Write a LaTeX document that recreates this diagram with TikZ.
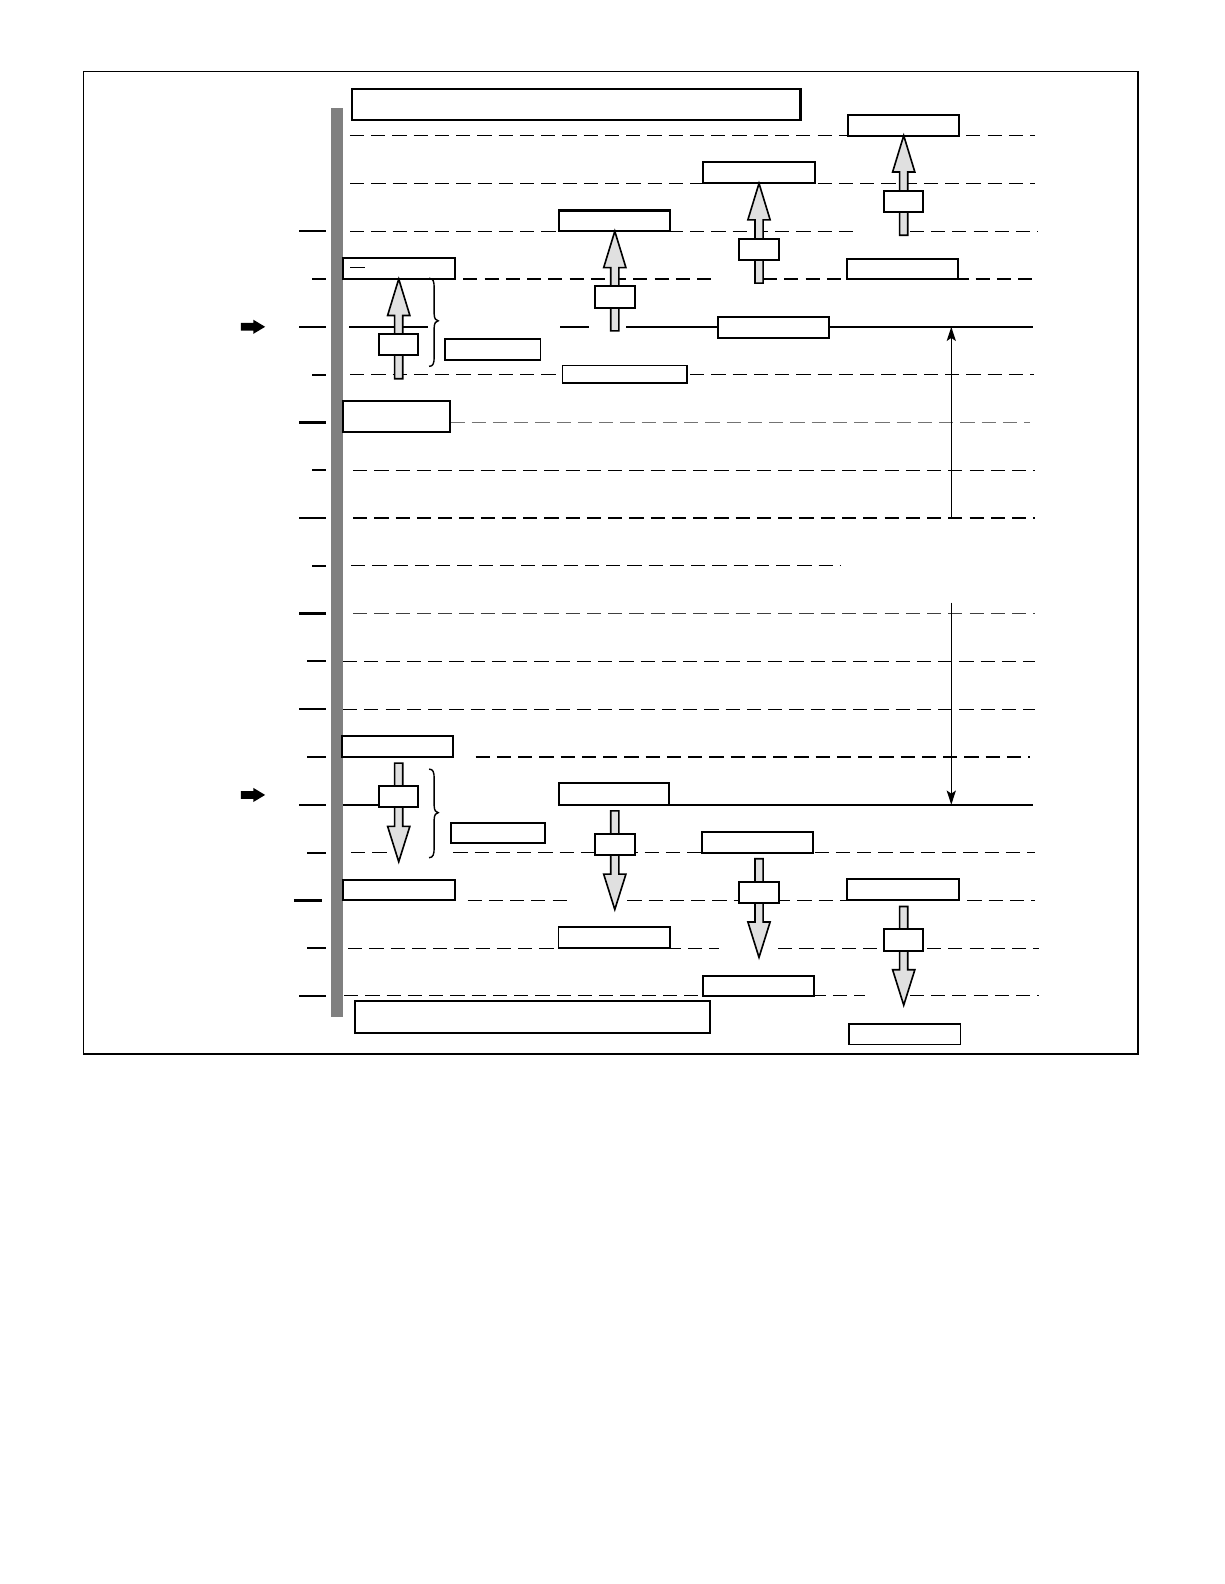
\documentclass[tikz,border=0pt]{standalone}
\usepackage{tikz}
\usetikzlibrary{calc,arrows.meta}
\tikzset{
	rung/.style={line width=0.55pt, dash pattern=on 7pt off 3.5pt},
	rungsolid/.style={line width=1pt},
	notch/.style={line width=1.1pt},
	slot/.style={line width=1pt, fill=white},
}
\def\liftarrow(#1:#2){\draw[line width=0.8pt, fill=black!12] (#1,#2) -- ++(11,36) -- ++(-7,0) -- ++(0,62.5) -- ++(-8,0) -- ++(0,-62.5) -- ++(-7,0) -- cycle;
	\draw[slot] ($(#1,#2)+(-19.5,54.5)$) rectangle ++(39,21);}
\def\droparrow(#1:#2){\draw[line width=0.8pt, fill=black!12] ($(#1,#2)+(-4,0)$) -- ++(8,0) -- ++(0,62.5) -- ++(7,0) -- ++(-11,35) -- ++(-11,-35) -- ++(7,0) -- cycle;
	\draw[slot] ($(#1,#2)+(-19.5,22.7)$) rectangle ++(39,21);}
\def\signarrow(#1:#2){\fill ($(#1,#2)+(0,-3.8)$) -- ++(12.3,0) -- ++(0,-3.2) -- ++(11.7,7) -- ++(-11.7,7) -- ++(0,-3.2) -- ++(-12.3,0) -- cycle;}

\begin{document}
\begin{tikzpicture}[x=0.5pt, y=-0.5pt]
			\useasboundingbox (0,0) rectangle (1209.5,1565.2);
			%%%%% FRAME %%%%%
			
			\draw[line width=0.65pt] (82.7,70.8) rectangle (1124.5,1041.5);
			\fill[color=black!50] (327.4,107) rectangle (338.6,1004.5);
			
			%%%%% LEVELS %%%%%
			
			\draw[rung] (345.8,134) -- (1022.7,134);
			\draw[rung] (346,181.2) -- (1022.7,181.2);
			\draw[rung] (346,228.5) -- (848,228.5);
			\draw[rung] (899,228.5) -- (1026,228.5);
			\draw[rung] (457.8,275.7) -- (708,275.7);
			\draw[rung] (754,275.7) -- (1021,275.7);
			\draw[rungsolid] (345,322.9) -- (423,322.9);
			\draw[rungsolid] (553.4,322.9) -- (582.3,322.9);
			\draw[rungsolid] (618.6,322.9) -- (1021,322.9);
			\draw[rung] (346,370.2) -- (1022,370.2);
			\draw[rung, color=black!55] (445,417.4) -- (1018,417.4);
			\draw[rung] (349,464.6) -- (1023,464.6);
			\draw[rung] (349,511.8) -- (1023,511.8);
			\draw[rung] (347,559.1) -- (831,559.1);
			\draw[rung, color=black!75] (349,606.3) -- (1023,606.3);
			\draw[rung] (339,653.5) -- (1023,653.5);
			\draw[rung] (339,700.8) -- (1023,700.8);
			\draw[rung] (470,748) -- (1018,748);
			\draw[rungsolid] (338.6,795.2) -- (375,795.2);
			\draw[rungsolid] (552,795.2) -- (1021,795.2);
			\draw[rung] (347,842.5) -- (383,842.5);
			\draw[rung] (448,842.5) -- (1023,842.5);
			\draw[rung] (462,889.7) -- (567,889.7);
			\draw[rung] (620,889.7) -- (1023,889.7);
			\draw[rung] (344,936.9) -- (710,936.9);
			\draw[rung] (769,936.9) -- (1027,936.9);
			\draw[rung] (340,984.1) -- (855,984.1);
			\draw[rung] (899,984.1) -- (1027,984.1);
			
			%%%%% TICKS %%%%%
			
			\draw[notch] (295.5,228.5) -- (322,228.5);
			\draw[notch] (308.6,275.7) -- (322,275.7);
			\draw[notch] (295.5,322.9) -- (322,322.9);
			\draw[notch] (308.6,370.2) -- (322,370.2);
			\draw[notch] (295.5,417.4) -- (322,417.4);
			\draw[notch] (308.6,464.6) -- (322,464.6);
			\draw[notch] (295.5,511.8) -- (322,511.8);
			\draw[notch] (308.6,559.1) -- (322,559.1);
			\draw[notch] (295.5,606.3) -- (322,606.3);
			\draw[notch] (303.7,653.5) -- (322,653.5);
			\draw[notch] (295.5,700.8) -- (322,700.8);
			\draw[notch] (303.7,748) -- (322,748);
			\draw[notch] (295.5,795.2) -- (322,795.2);
			\draw[notch] (303.7,842.5) -- (322,842.5);
			\draw[notch] (290.5,889.7) -- (318,889.7);
			\draw[notch] (303.7,936.9) -- (322,936.9);
			\draw[notch] (295.5,984.1) -- (322,984.1);
			
			\signarrow(238:322.9)
			\signarrow(238:785.5)
			
			%%%%% BOXES %%%%%
			
			\draw[slot] (348,88) rectangle (791,119);
			\draw[slot] (838,113.5) rectangle (948,134);
			\draw[slot] (695,160.5) rectangle (805,181.2);
			\draw[slot] (552,208) rectangle (662,228.5);
			\draw[slot] (338.6,255) rectangle (449.6,275.7);
			\draw[line width=0.6pt] (346,264) -- (360.7,264);
			\draw[slot] (837,255.5) rectangle (947,275.7);
			\draw[slot] (709,313.5) rectangle (819,334);
			\draw[slot, line width=0.8pt] (440,335) rectangle (534,355.7);
			\draw[slot, line width=0.8pt] (556,361) rectangle (679,378.5);
			\draw[slot] (338.5,396.5) rectangle (445,427);
			\draw[slot] (337.6,727) rectangle (448,748);
			\draw[slot] (552,774) rectangle (661,795.2);
			\draw[slot] (445.4,813) rectangle (538.5,832.7);
			\draw[slot] (693.5,821.8) rectangle (803,842.5);
			\draw[slot] (338.6,869.5) rectangle (449.6,889.7);
			\draw[slot] (837,869) rectangle (948,889.7);
			\draw[slot, line width=0.8pt] (551.7,916) rectangle (662,936.9);
			\draw[slot] (694.3,964) rectangle (804.3,984.1);
			\draw[slot] (350.8,989) rectangle (701.6,1020.4);
			\draw[slot, line width=0.8pt] (839,1012) rectangle (949,1032);
			
			%%%%% BRACES %%%%%
			
			\draw[line width=0.7pt] (424,275) .. controls (428,275) and (429,278) .. (429,284) -- (429,310) .. controls (429,315) and (431,317) .. (433,317) .. controls (431,317) and (429,319) .. (429,324) -- (429,353) .. controls (429,359) and (428,362) .. (424,362);
			\draw[line width=0.7pt] (424,760) .. controls (428,760) and (429,763) .. (429,769) -- (429,796) .. controls (429,801) and (431,803) .. (433,803) .. controls (431,803) and (429,805) .. (429,810) -- (429,838) .. controls (429,844) and (428,847.5) .. (424,847.5);
			
			%%%%% ARROWS %%%%%
			
			\liftarrow(394:275.7)
			\liftarrow(607.5:228.5)
			\liftarrow(750:181.2)
			\liftarrow(893:134)
			
			\droparrow(394:754)
			\droparrow(607.5:801.2)
			\droparrow(750:848.5)
			\droparrow(893:895.7)
			
			\draw[line width=0.65pt, -{Stealth[length=7pt,width=4.5pt,inset=1.5pt]}] (940,511.8) -- (940,322.9);
			\draw[line width=0.65pt, -{Stealth[length=7pt,width=4.5pt,inset=1.5pt]}] (940,595.5) -- (940,795.2);
			
			%%%%% END %%%%%
\end{tikzpicture}
\end{document}
